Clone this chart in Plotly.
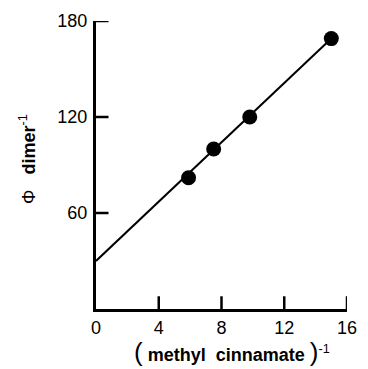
import plotly.graph_objects as go

# data
conc_inv = [5.9, 7.5, 9.8, 15.0]
phi_inv = [82, 100, 120, 169]
fit_x = [0, 15]
fit_y = [30, 169]
x_ticks = [0, 4, 8, 12, 16]
y_ticks = [60, 120, 180]

fig = go.Figure()
fig.add_trace(go.Scatter(x=fit_x, y=fit_y, mode="lines",
                         line=dict(color="black", width=2), showlegend=False))
fig.add_trace(go.Scatter(x=conc_inv, y=phi_inv, mode="markers",
                         marker=dict(color="black", size=15), showlegend=False))

FAM = "Liberation Sans, Arial, sans-serif"
font = dict(family=FAM, size=18, color="black")
W, H = 368, 369
M = dict(l=96, r=11, t=15, b=60)
fig.update_layout(
    width=W, height=H, margin=M,
    paper_bgcolor="white", plot_bgcolor="white",
    font=font,
)
axis_common = dict(showgrid=False, zeroline=False, showline=True, linecolor="black",
                   linewidth=3, ticks="", tickfont=font)
fig.update_xaxes(range=[0, 16], tickvals=x_ticks, ticktext=[str(v) for v in x_ticks],
                 **axis_common)
fig.update_yaxes(range=[0, 180], tickvals=y_ticks, ticktext=[str(v) for v in y_ticks],
                 ticklabelstandoff=2, **axis_common)

# inward tick marks at the tick values (drawn as short lines)
tick_len = 13 / (H - M["t"] - M["b"]) * 180  # y data units
tick_len_x = 13 / (W - M["l"] - M["r"]) * 16  # x data units
for v in x_ticks[1:]:
    fig.add_trace(go.Scatter(x=[v, v], y=[0, tick_len], mode="lines",
                             line=dict(color="black", width=2.5), showlegend=False,
                             hoverinfo="skip", cliponaxis=False))
for v in y_ticks:
    fig.add_trace(go.Scatter(x=[0, tick_len_x], y=[v, v], mode="lines",
                             line=dict(color="black", width=2.5), showlegend=False,
                             hoverinfo="skip", cliponaxis=False))

fig.add_annotation(text="Φ   <b>dimer</b><sup>-1</sup>", textangle=-90,
                   xref="paper", yref="paper", x=-0.272, y=0.52,
                   xanchor="center", yanchor="middle",
                   showarrow=False, font=dict(family=FAM, size=18))
fig.add_annotation(text="<span style='font-size:26px'>(</span> <b>methyl  cinnamate</b> <span style='font-size:26px'>)</span><sup>-1</sup>",
                   xref="paper", yref="paper", x=0.54, y=-0.15,
                   xanchor="center", yanchor="middle",
                   showarrow=False, font=dict(family=FAM, size=18))

fig.write_html("out.html")
